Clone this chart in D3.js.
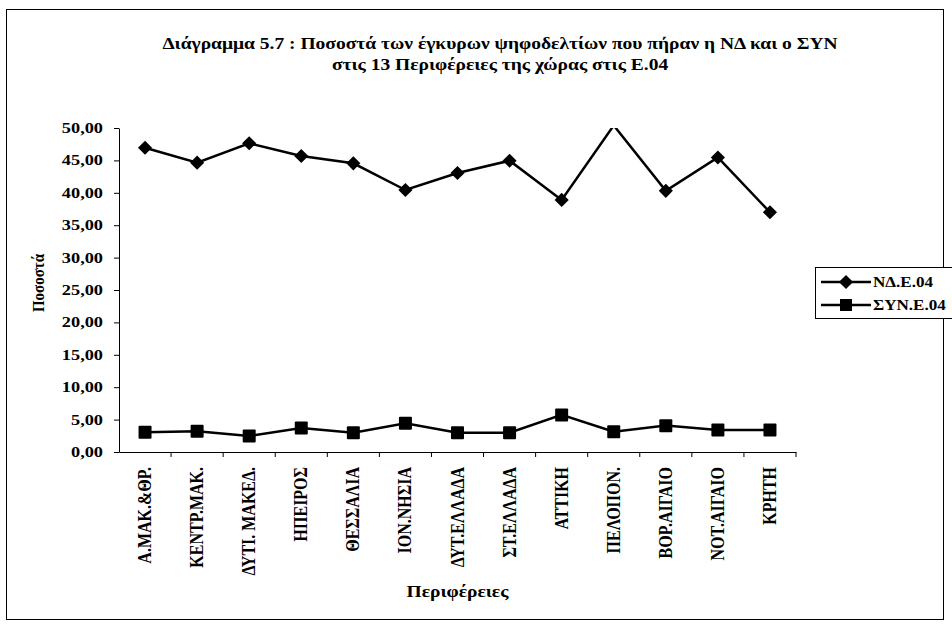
<!DOCTYPE html>
<html><head><meta charset="utf-8">
<script src="https://cdn.jsdelivr.net/npm/d3@7"></script>
<style>
html,body{margin:0;padding:0;background:#fff;}
text{font-family:"Liberation Serif","Times New Roman",serif;font-weight:bold;fill:#000;}
</style></head><body>
<svg id="chart" width="952" height="627"></svg>
<script>
const categories = ["Α.ΜΑΚ.&ΘΡ.","ΚΕΝΤΡ.ΜΑΚ.","ΔΥΤΙ. ΜΑΚΕΔ.","ΗΠΕΙΡΟΣ","ΘΕΣΣΑΛΙΑ","ΙΟΝ.ΝΗΣΙΑ","ΔΥΤ.ΕΛΛΑΔΑ","ΣΤ.ΕΛΛΑΔΑ","ΑΤΤΙΚΗ","ΠΕΛΟΠΟΝ.","ΒΟΡ.ΑΙΓΑΙΟ","ΝΟΤ.ΑΙΓΑΙΟ","ΚΡΗΤΗ"];
const ndValues  = [46.96, 44.65, 47.64, 45.68, 44.55, 40.43, 43.05, 44.95, 38.90, 50.40, 40.30, 45.45, 37.00];
const synValues = [3.04, 3.20, 2.47, 3.70, 2.98, 4.43, 2.98, 2.98, 5.72, 3.14, 4.07, 3.40, 3.40];
const yTicks = [0,5,10,15,20,25,30,35,40,45,50];
const seriesNames = ["ΝΔ.Ε.04","ΣΥΝ.Ε.04"];
const titleLines = ["Διάγραμμα 5.7 : Ποσοστά των έγκυρων ψηφοδελτίων που πήραν η ΝΔ και ο ΣΥΝ","στις 13 Περιφέρειες της χώρας στις Ε.04"];

const svg = d3.select("#chart");
const L = 119, R = 796, T = 128, B = 452;
const SX = 1.22; // horizontal stretch of the text in the reference

function txt(parent, x, y, size, str, anchor, rot, sx){
  const t = parent.append("text")
    .attr("transform", `translate(${x},${y}) scale(${sx||SX},1)` + (rot ? ` rotate(${rot})` : ""))
    .attr("text-anchor", anchor || "middle").attr("font-size", size).text(str);
  return t;
}

// outer border
svg.append("rect").attr("x",6.5).attr("y",9.5).attr("width",937).attr("height",610)
  .attr("fill","none").attr("stroke","#000").attr("stroke-width",1);

// title
txt(svg, 500, 49, 16, titleLines[0]);
txt(svg, 500, 70, 16, titleLines[1]);

const x = d3.scaleBand().domain(categories).range([L,R]).padding(0);
const y = d3.scaleLinear().domain([0,50]).range([B,T]);
const fmt = d => d3.format(".2f")(d).replace(".",",");

// y axis
const yAxis = svg.append("g").attr("transform",`translate(${L},0)`)
  .call(d3.axisLeft(y).tickValues(yTicks).tickFormat("").tickSize(5).tickSizeOuter(0));
yAxis.select(".domain").attr("stroke","#000");
yAxis.selectAll("line").attr("stroke","#000");
const yl = svg.append("g");
yTicks.forEach(v => txt(yl, 103, y(v)+5, 15, fmt(v), "end"));

// x axis
const xAxis = svg.append("g").attr("transform",`translate(0,${B})`)
  .call(d3.axisBottom(x).tickSize(0).tickSizeOuter(0).tickFormat(""));
xAxis.select(".domain").attr("stroke","#000");
const bounds = categories.map(c => x(c) + x.bandwidth());
xAxis.selectAll(".bt").data(bounds).enter().append("line")
  .attr("x1",d=>d).attr("x2",d=>d).attr("y1",0).attr("y2",5).attr("stroke","#000");
const xl = svg.append("g");
categories.forEach(c => txt(xl, x(c)+x.bandwidth()/2+6, 467, 16, c, "end", -90, 1.12));

// axis titles
txt(svg, 44, 283, 15, "Ποσοστά", "middle", -90, 1.15);
txt(svg, (L+R)/2, 597, 16, "Περιφέρειες", "middle");

// clip
svg.append("defs").append("clipPath").attr("id","plotclip").append("rect")
  .attr("x",L).attr("y",T).attr("width",R-L).attr("height",B-T);

const cx = d => x(d) + x.bandwidth()/2;
const line = d3.line().x(d=>cx(d.c)).y(d=>y(d.v));
const nd = categories.map((c,i)=>({c,v:ndValues[i]}));
const syn = categories.map((c,i)=>({c,v:synValues[i]}));

const plot = svg.append("g").attr("clip-path","url(#plotclip)");
plot.append("path").datum(nd).attr("d",line).attr("fill","none").attr("stroke","#000").attr("stroke-width",2.5).attr("stroke-linejoin","miter");
plot.append("path").datum(syn).attr("d",line).attr("fill","none").attr("stroke","#000").attr("stroke-width",2.5);

const diamond = d3.symbol().type(d3.symbolSquare).size(100);
svg.append("g").selectAll("path").data(nd.filter(d=>d.v<=50)).enter().append("path")
  .attr("d",diamond).attr("transform",d=>`translate(${cx(d.c)},${y(d.v)}) rotate(45)`).attr("fill","#000");
svg.append("g").selectAll("rect").data(syn).enter().append("rect")
  .attr("x",d=>cx(d.c)-6.5).attr("y",d=>y(d.v)-6.5).attr("width",13).attr("height",13).attr("rx",1).attr("fill","#000");

// legend
const lg = svg.append("g");
lg.append("rect").attr("x",815.5).attr("y",267.5).attr("width",140).attr("height",51).attr("fill","#fff").attr("stroke","#000");
seriesNames.forEach((n,i)=>{
  const yy = 282 + i*23;
  lg.append("line").attr("x1",821).attr("x2",871).attr("y1",yy).attr("y2",yy).attr("stroke","#000").attr("stroke-width",2.5);
  if(i===0) lg.append("path").attr("d",diamond).attr("transform",`translate(846,${yy}) rotate(45)`).attr("fill","#000");
  else lg.append("rect").attr("x",840).attr("y",yy-6).attr("width",12).attr("height",12).attr("fill","#000");
  txt(lg, 873, yy+5, 14, n, "start");
});
</script></body></html>
